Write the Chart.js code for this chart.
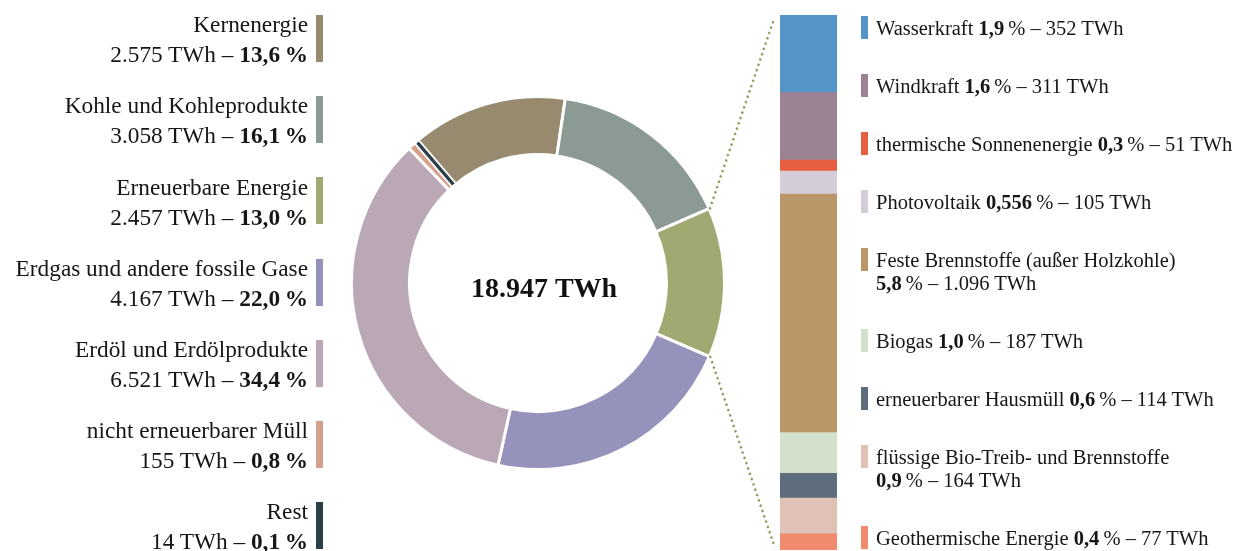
<!DOCTYPE html>
<html lang="de">
<head>
<meta charset="utf-8">
<title>Primärenergieverbrauch</title>
<script src="https://cdn.jsdelivr.net/npm/chart.js@4.4.1/dist/chart.umd.min.js"></script>
<style>
  html, body { margin: 0; padding: 0; background: #fff; }
  body {
    width: 1236px; height: 551px; position: relative; overflow: hidden;
    font-family: "Liberation Serif", "Times New Roman", serif; color: #161616;
  }
  #ring { position: absolute; left: 0; top: 0; }
  #stack { position: absolute; left: 780px; top: 15px; }
  #mixLegend { position: absolute; left: 0; top: 9.25px; width: 323px; }
  #mixLegend .item { position: relative; height: 60px; margin-bottom: 21.2px; }
  #mixLegend .txt { text-align: right; padding-right: 15px; font-size: 23.3px; line-height: 30px; white-space: nowrap; }
  #mixLegend .mark { position: absolute; right: 0; top: 5.75px; width: 7px; height: 47px; }
  #renewLegend { position: absolute; left: 861px; top: 16.75px; width: 375px; }
  #renewLegend .item { position: relative; margin-bottom: 35px; }
  #renewLegend .txt { padding-left: 15px; font-size: 20.5px; line-height: 23px; white-space: nowrap; }
  #renewLegend .mark { position: absolute; left: 0; top: -0.75px; width: 7px; height: 23px; }
  b { font-weight: bold; }
</style>
</head>
<body>
<canvas id="ring" width="1236" height="551"></canvas>
<canvas id="stack" width="57" height="535"></canvas>
<div id="mixLegend"></div>
<div id="renewLegend"></div>
<script>
// Energy mix (TWh)
const mixNames = ['Kernenergie', 'Kohle und Kohleprodukte', 'Erneuerbare Energie',
  'Erdgas und andere fossile Gase', 'Erdöl und Erdölprodukte', 'nicht erneuerbarer Müll', 'Rest'];
const mixTWh = [2575, 3058, 2457, 4167, 6521, 155, 14];
const mixShares = ['13,6', '16,1', '13,0', '22,0', '34,4', '0,8', '0,1'];
const mixColors = ['#978a6e', '#8b9b94', '#a0a972', '#9593bc', '#baa8b7', '#d4a08c', '#2c3e48'];

// Breakdown of the renewable share (TWh)
const renewNames = ['Wasserkraft', 'Windkraft', 'thermische Sonnenenergie', 'Photovoltaik',
  'Feste Brennstoffe (außer Holzkohle)', 'Biogas', 'erneuerbarer Hausmüll',
  'flüssige Bio-Treib- und Brennstoffe', 'Geothermische Energie'];
const renewTWh = [352, 311, 51, 105, 1096, 187, 114, 164, 77];
const renewShares = ['1,9', '1,6', '0,3', '0,556', '5,8', '1,0', '0,6', '0,9', '0,4'];
const renewColors = ['#5494c8', '#9c8393', '#e85e40', '#d4ccd6', '#b99768', '#d2e0cc', '#5d6d7b', '#dfc1b5', '#f28a70'];
const renewTwoLine = [4, 7];   // entries whose value goes on a second line

const RENEW_INDEX = 2;         // slice that the bar breaks down

const fmt = n => String(n).replace(/\B(?=(\d{3})+(?!\d))/g, '.');
const sum = a => a.reduce((s, v) => s + v, 0);
const mixTotal = sum(mixTWh);
const renewTotal = sum(renewTWh);

// ---- legends ----
const mixLegend = document.getElementById('mixLegend');
mixNames.forEach((name, i) => {
  const item = document.createElement('div');
  item.className = 'item';
  item.innerHTML = `<div class="txt">${name}<br>${fmt(mixTWh[i])} TWh – <b>${mixShares[i]}\u2009%</b></div>` +
                   `<div class="mark" style="background:${mixColors[i]}"></div>`;
  mixLegend.appendChild(item);
});

const renewLegend = document.getElementById('renewLegend');
renewNames.forEach((name, i) => {
  const item = document.createElement('div');
  item.className = 'item';
  const value = `<b>${renewShares[i]}</b>\u2009% – ${fmt(renewTWh[i])} TWh`;
  const sep = renewTwoLine.includes(i) ? '<br>' : ' ';
  item.innerHTML = `<div class="txt">${name}${sep}${value}</div>` +
                   `<div class="mark" style="background:${renewColors[i]}"></div>`;
  renewLegend.appendChild(item);
});

// ---- stacked bar of renewables ----
const stackChart = new Chart(document.getElementById('stack'), {
  type: 'bar',
  data: {
    labels: [mixNames[RENEW_INDEX]],
    datasets: renewNames.map((n, i) => ({
      label: n, data: [renewTWh[i]], backgroundColor: renewColors[i],
      borderWidth: 0, barPercentage: 1, categoryPercentage: 1
    }))
  },
  options: {
    responsive: false, animation: false, devicePixelRatio: 1,
    layout: { padding: 0 },
    plugins: { legend: { display: false }, tooltip: { enabled: false } },
    scales: {
      x: { display: false, stacked: true },
      y: { display: false, stacked: true, reverse: true, min: 0, max: renewTotal }
    }
  }
});

// very thin slices get a minimum visible width
const thinSlices = {
  id: 'thinSlices',
  afterDatasetsDraw(chart) {
    const ctx = chart.ctx;
    const meta = chart.getDatasetMeta(0);
    meta.data.forEach((arc, i) => {
      const p = arc.getProps(['x', 'y', 'startAngle', 'endAngle', 'innerRadius', 'outerRadius']);
      const midR = (p.innerRadius + p.outerRadius) / 2;
      if ((p.endAngle - p.startAngle) * midR >= 2) return;
      const a = (p.startAngle + p.endAngle) / 2;
      const c = Math.cos(a), s = Math.sin(a);
      ctx.save();
      ctx.lineCap = 'butt';
      ctx.strokeStyle = '#fff';
      ctx.lineWidth = 7;
      ctx.beginPath();
      ctx.moveTo(p.x + c * (p.innerRadius - 1), p.y + s * (p.innerRadius - 1));
      ctx.lineTo(p.x + c * (p.outerRadius + 1), p.y + s * (p.outerRadius + 1));
      ctx.stroke();
      ctx.strokeStyle = mixColors[i];
      ctx.lineWidth = 3.2;
      ctx.beginPath();
      ctx.moveTo(p.x + c * (p.innerRadius + 1.5), p.y + s * (p.innerRadius + 1.5));
      ctx.lineTo(p.x + c * (p.outerRadius - 1.5), p.y + s * (p.outerRadius - 1.5));
      ctx.stroke();
      ctx.restore();
    });
  }
};

// total in the middle of the ring
const centerLabel = {
  id: 'centerLabel',
  afterDraw(chart) {
    const arc = chart.getDatasetMeta(0).data[0];
    const ctx = chart.ctx;
    ctx.save();
    ctx.font = 'bold 28px "Liberation Serif", serif';
    ctx.fillStyle = '#111';
    ctx.textAlign = 'center';
    ctx.textBaseline = 'alphabetic';
    ctx.fillText(`${fmt(mixTotal)} TWh`, arc.x + 6, arc.y + 13.5);
    ctx.restore();
  }
};

// dotted leaders from the renewable slice to the breakdown bar
const leaders = {
  id: 'leaders',
  afterDraw(chart) {
    const ctx = chart.ctx;
    const arc = chart.getDatasetMeta(0).data[RENEW_INDEX];
    const p = arc.getProps(['x', 'y', 'startAngle', 'endAngle', 'outerRadius']);
    const cv = stackChart.canvas;
    const first = stackChart.getDatasetMeta(0).data[0];
    const last = stackChart.getDatasetMeta(renewNames.length - 1).data[0];
    const barLeft = cv.offsetLeft + first.x - first.width / 2;
    const barTop = cv.offsetTop + Math.min(first.y, first.base);
    const barBottom = cv.offsetTop + Math.max(last.y, last.base);
    const r = p.outerRadius + 1;
    const ends = [
      [p.startAngle, barTop + 4],
      [p.endAngle, barBottom - 5]
    ];
    ctx.save();
    ctx.strokeStyle = '#93a062';
    ctx.lineWidth = 2.7;
    ctx.lineCap = 'round';
    ctx.setLineDash([0.01, 5.6]);
    ends.forEach(([ang, by]) => {
      ctx.beginPath();
      ctx.moveTo(p.x + Math.cos(ang) * r, p.y + Math.sin(ang) * r);
      ctx.lineTo(barLeft - 6, by);
      ctx.stroke();
    });
    ctx.restore();
  }
};

// ---- ring of the energy mix ----
new Chart(document.getElementById('ring'), {
  type: 'doughnut',
  data: {
    labels: mixNames,
    datasets: [{
      data: mixTWh, backgroundColor: mixColors,
      borderColor: '#fff', borderWidth: 3, hoverOffset: 0
    }]
  },
  options: {
    responsive: false, animation: false, devicePixelRatio: 1,
    rotation: -40.5, radius: 186.5, cutout: '68.9%',
    layout: { padding: { left: 0, right: 160, top: 15, bottom: 0 } },
    plugins: { legend: { display: false }, tooltip: { enabled: false } }
  },
  plugins: [thinSlices, centerLabel, leaders]
});
</script>
</body>
</html>
